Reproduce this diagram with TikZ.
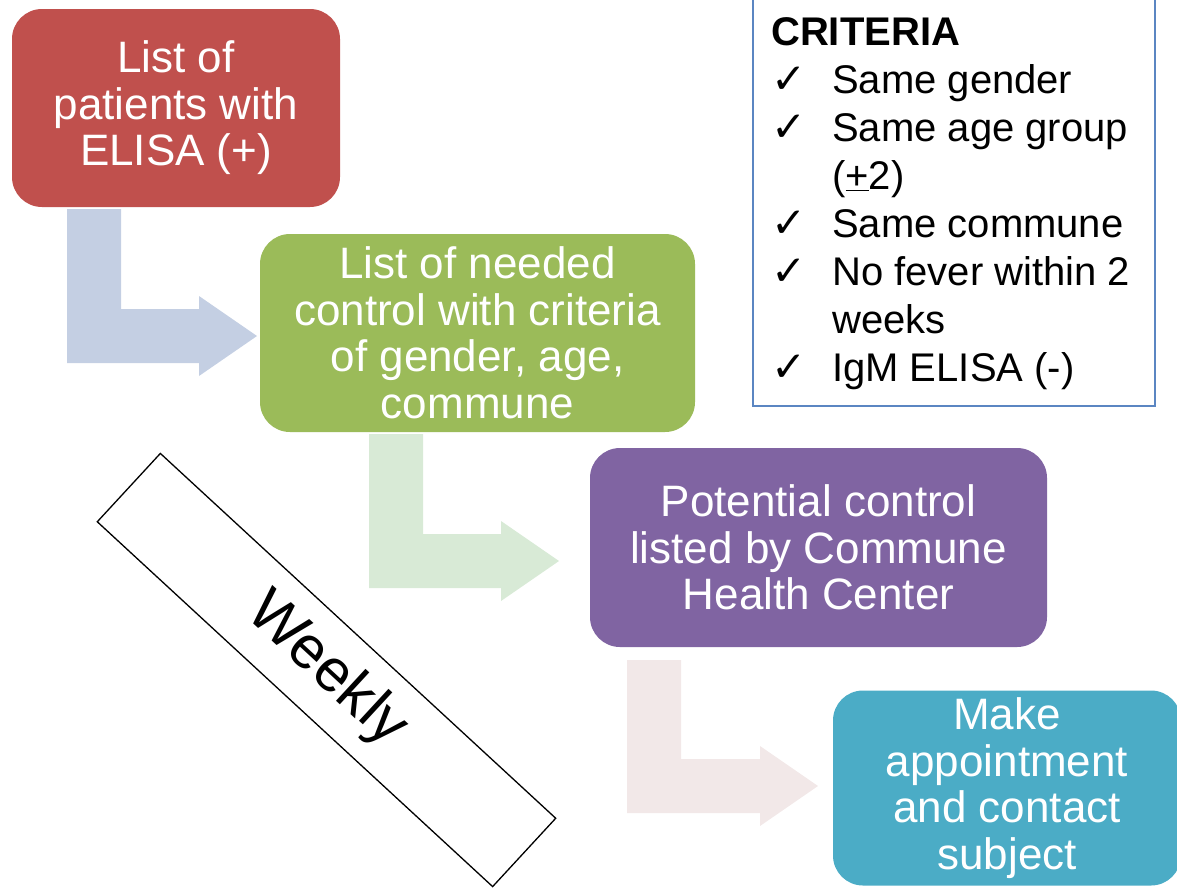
\documentclass[tikz,border=0pt]{standalone}
\usepackage{fontspec}
\setmainfont{Liberation Sans}
\newfontfamily\symfont{DejaVu Sans}
\definecolor{cred}{HTML}{C0504D}
\definecolor{cgreen}{HTML}{9BBB59}
\definecolor{cpurple}{HTML}{8064A2}
\definecolor{cteal}{HTML}{4BACC6}
\definecolor{arblue}{HTML}{C4CFE3}
\definecolor{argreen}{HTML}{D8EAD6}
\definecolor{arpink}{HTML}{F2E8E8}
\definecolor{critblue}{HTML}{5B86C2}
\newcommand\ck{{\symfont\fontsize{42}{48}\selectfont ✓}}
\newcommand\bentarr[5]{% color, left x, top y, bottom y, tip x
  \fill[#1] (#2,#3) -- (#2+54,#3) -- (#2+54,#4-54) -- (#5-58,#4-54) -- (#5-58,#4-67)
    -- (#5,#4-27) -- (#5-58,#4+13) -- (#5-58,#4) -- (#2,#4) -- cycle;}
\begin{document}
\begin{tikzpicture}[x=1pt,y=-1pt,
  flowbox/.style={rounded corners=30pt, text=white, align=center, inner sep=0pt,
    font=\fontsize{44}{46.5}\selectfont},
  weekbox/.style={draw=black, line width=1.3pt, inner sep=0pt, rotate=-42.7,
    minimum width=538, minimum height=93, font=\fontsize{60}{64}\selectfont}]
\useasboundingbox (0,0) rectangle (1177,887);

% bent arrows
\bentarr{arblue}{67}{209}{363}{257}
\bentarr{argreen}{369}{434}{588}{559}
\bentarr{arpink}{627}{660}{813}{818}

% boxes
\node[flowbox, fill=cred, minimum width=328, minimum height=198] (b1) at (176,108)
  {List of\\patients with\\ELISA (+)};
\node[flowbox, fill=cgreen, minimum width=435, minimum height=198] (b2) at (477.5,333)
  {List of needed\\control with criteria\\of gender, age,\\commune};
\node[flowbox, fill=cpurple, minimum width=457, minimum height=199] (b3) at (818.5,547.5)
  {Potential control\\listed by Commune\\Health Center};
\node[flowbox, fill=cteal, minimum width=348, minimum height=195] (b4) at (1007,788)
  {Make\\appointment\\and contact\\subject};

% weekly
\node[weekbox] (wk) at (326.5,670) {Weekly};

% criteria
\node[draw=critblue, line width=2pt, minimum width=402, minimum height=414, inner sep=0pt,
  anchor=south west] (critbox) at (752,407) {};
\node[anchor=base west, inner sep=0pt, font=\fontsize{40}{48}\selectfont] (crit) at (771,45)
  {\begin{tabular}[t]{@{}p{61pt}@{}l@{}}
   \multicolumn{2}{@{}l}{\textbf{CRITERIA}}\\
   \ck & Same gender\\
   \ck & Same age group\\
       & (\underline{+}2)\\
   \ck & Same commune\\
   \ck & No fever within 2\\
       & weeks\\
   \ck & IgM ELISA (-)
   \end{tabular}};
\end{tikzpicture}
\end{document}
